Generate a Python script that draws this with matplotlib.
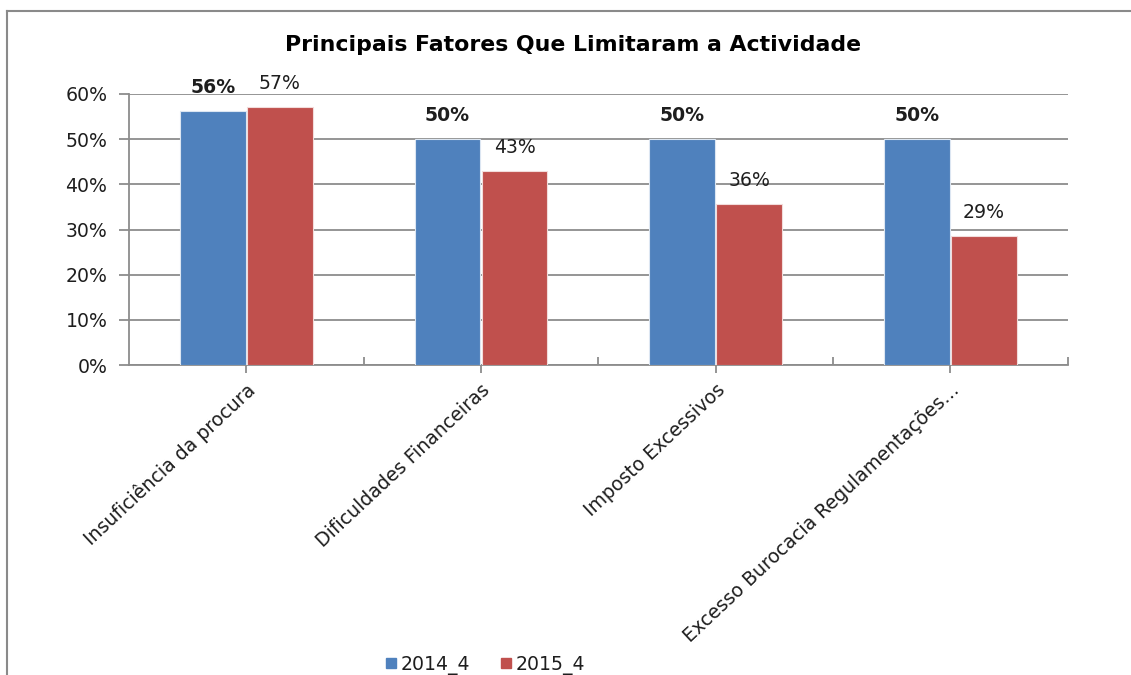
import numpy as np
import matplotlib
matplotlib.use("Agg")
import matplotlib.pyplot as plt
from matplotlib.lines import Line2D
from matplotlib.ticker import FuncFormatter, FixedLocator

plt.rcParams["font.family"] = ["DejaVu Sans"]

categorias = ["Insuficiência da procura", "Dificuldades Financeiras",
              "Imposto Excessivos", "Excesso Burocacia Regulamentações…"]
series = ["2014_4", "2015_4"]
v2014 = [0.5625, 0.50, 0.50, 0.50]
v2015 = [0.5714, 0.4286, 0.3571, 0.2857]

AZUL = "#4F81BD"; VERM = "#C0504D"; GRID = "#8C8C8C"; TXT = "#1E1E1E"
FS = 13.6

fig = plt.figure(figsize=(11.31, 6.75), dpi=100)
ax = fig.add_axes([0.114, 0.459, 0.830, 0.402])

x = np.arange(len(categorias))
w = 0.28
b1 = ax.bar(x - w/2 - 0.003, v2014, w, color=AZUL, edgecolor="#DCE6F2", lw=0.8, zorder=3)
b2 = ax.bar(x + w/2 + 0.003, v2015, w, color=VERM, edgecolor="#F2DCDB", lw=0.8, zorder=3)

for r, v in zip(b1, v2014):
    ax.annotate(f"{v:.0%}", (r.get_x() + r.get_width()/2, v), xytext=(0, 10),
                textcoords="offset points", ha="center", va="bottom",
                fontsize=FS, fontweight="bold", color=TXT)
for r, v in zip(b2, v2015):
    ax.annotate(f"{v:.0%}", (r.get_x() + r.get_width()/2, v), xytext=(0, 10),
                textcoords="offset points", ha="center", va="bottom",
                fontsize=FS, color=TXT)

ax.set_xlim(-0.5, 3.5)
ax.set_ylim(0, 0.6)
ax.set_yticks(np.arange(0, 0.61, 0.1))
ax.yaxis.set_major_formatter(FuncFormatter(lambda v, _: f"{v:.0%}"))
ax.grid(axis="y", color=GRID, lw=1.3, zorder=0)
ax.set_axisbelow(True)
for s in ["top", "right"]:
    ax.spines[s].set_visible(False)
for s in ["left", "bottom"]:
    ax.spines[s].set_color(GRID); ax.spines[s].set_linewidth(1.3)

ax.set_xticks(x)
ax.set_xticklabels(categorias, rotation=43, ha="right", va="top",
                   rotation_mode="anchor", fontsize=FS, color=TXT)
ax.xaxis.set_minor_locator(FixedLocator([0.5, 1.5, 2.5, 3.5]))
ax.tick_params(axis="x", which="major", direction="out", length=6, width=1.3,
               color=GRID, pad=5)
ax.tick_params(axis="x", which="minor", direction="in", length=6, width=1.3, color=GRID)
ax.tick_params(axis="y", direction="out", length=7, width=1.3, color=GRID,
               labelsize=FS, labelcolor=TXT, pad=8.5)

fig.text(0.507, 0.933, "Principais Fatores Que Limitaram a Actividade",
         ha="center", va="center", fontsize=15.8, fontweight="bold", color="#000000")

handles = [Line2D([], [], marker="s", ls="", color=AZUL, markersize=7.5),
           Line2D([], [], marker="s", ls="", color=VERM, markersize=7.5)]
fig.legend(handles, series, loc="center", bbox_to_anchor=(0.429, 0.015), ncol=2,
           frameon=False, fontsize=FS, handlelength=0.6, handletextpad=0.2,
           columnspacing=1.6, borderpad=0, labelcolor=TXT)

# moldura do gráfico (continua além da imagem à direita e em baixo)
fig.add_artist(Line2D([7/1131, 1.0], [1 - 11/675] * 2, color="#8A8A8A", lw=1.5,
                      transform=fig.transFigure))
fig.add_artist(Line2D([7/1131] * 2, [0, 1 - 11/675], color="#8A8A8A", lw=1.5,
                      transform=fig.transFigure))

fig.savefig("out.png", dpi=100, facecolor="white")
